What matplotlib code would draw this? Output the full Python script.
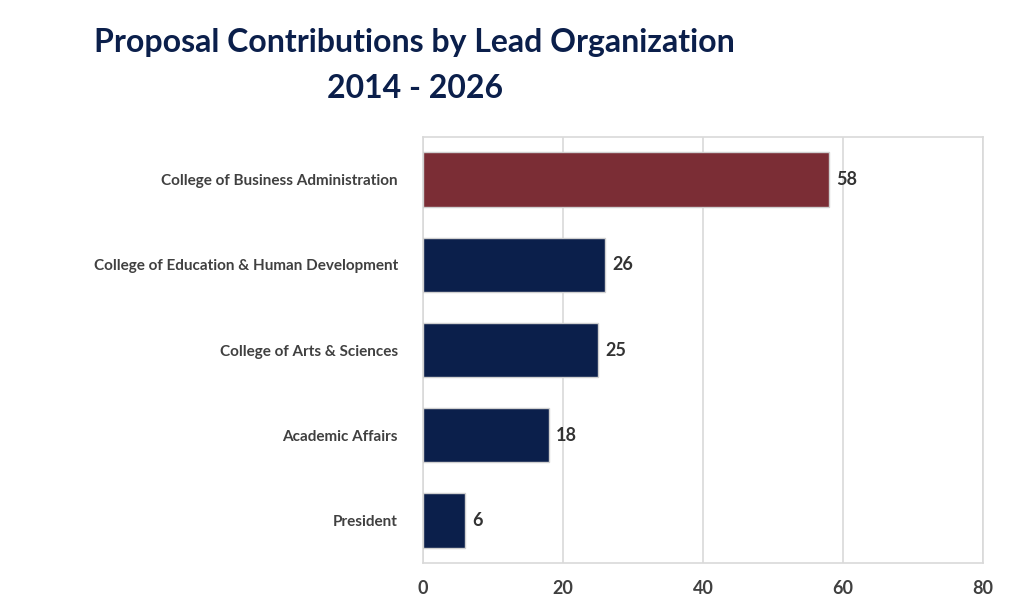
import matplotlib
matplotlib.use("Agg")
import matplotlib.pyplot as plt

categories = ["College of Business Administration", "College of Education & Human Development",
              "College of Arts & Sciences", "Academic Affairs", "President"]
values = [58, 26, 25, 18, 6]
colors = ["#7B2D35", "#0B1F4B", "#0B1F4B", "#0B1F4B", "#0B1F4B"]

plt.rcParams['font.family'] = ['Lato', 'DejaVu Sans']
fig = plt.figure(figsize=(10.24, 6.09), dpi=100)
ax = fig.add_axes([0.413, 0.0755, 0.547, 0.6995])
y = list(range(len(categories)))[::-1]
ax.barh(y, values, height=0.64, color=colors, edgecolor="#D0D0D0", linewidth=1, zorder=3)
for yi, v in zip(y, values):
    ax.text(v + 1, yi, str(v), va="center", ha="left", fontsize=13, fontweight="bold", color="#333333")
ax.set_yticks(y)
ax.set_yticklabels(categories, fontsize=11, fontweight="bold", color="#404040")
ax.set_xlim(0, 80)
ax.set_ylim(-0.5, 4.5)
ax.set_xticks([0, 20, 40, 60, 80])
ax.tick_params(axis='x', labelsize=13, labelcolor="#404040", length=0, pad=12)
for l in ax.get_xticklabels():
    l.set_fontweight("bold")
ax.tick_params(axis='y', length=0, pad=18)
ax.grid(axis='x', color="#D9D9D9", linewidth=1.2, zorder=0)
for s in ax.spines.values():
    s.set_color("#D9D9D9")
    s.set_linewidth(1.2)
fig.text(0.405, 0.93, "Proposal Contributions by Lead Organization", ha="center", va="center",
         fontsize=23, fontweight="bold", color="#0B1F4B")
fig.text(0.405, 0.855, "2014 - 2026", ha="center", va="center",
         fontsize=23, fontweight="bold", color="#0B1F4B")
fig.savefig("out.png", dpi=100)
